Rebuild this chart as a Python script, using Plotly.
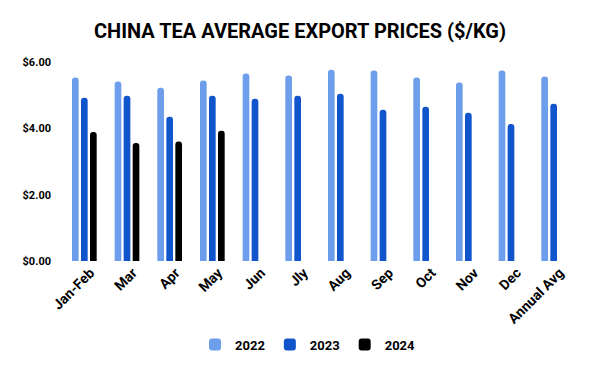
import plotly.graph_objects as go

categories = ["Jan-Feb", "Mar", "Apr", "May", "Jun", "Jly", "Aug", "Sep", "Oct", "Nov", "Dec", "Annual Avg"]
v2022 = [5.53, 5.41, 5.22, 5.44, 5.65, 5.59, 5.77, 5.74, 5.53, 5.38, 5.74, 5.56]
v2023 = [4.92, 4.98, 4.35, 4.98, 4.89, 4.98, 5.04, 4.56, 4.65, 4.47, 4.13, 4.74]
v2024 = [3.89, 3.56, 3.60, 3.93, None, None, None, None, None, None, None, None]
y_ticks = [0, 2, 4, 6]
y_tick_labels = ["$0.00", "$2.00", "$4.00", "$6.00"]

fig = go.Figure()
for name, vals, color in [("2022", v2022, "#6d9eeb"), ("2023", v2023, "#1155cc"), ("2024", v2024, "#000000")]:
    fig.add_trace(go.Bar(x=categories, y=vals, name=name, marker_color=color, marker_line_width=0))

fig.update_layout(
    width=600, height=371,
    margin=dict(l=55, r=33, t=54, b=118, autoexpand=False),
    paper_bgcolor="white", plot_bgcolor="white",
    barmode="group", bargap=0.366, bargroupgap=0.26,
    barcornerradius=3,
    font=dict(family="Roboto", color="#000000"),
    title=dict(text="<b>CHINA TEA AVERAGE EXPORT PRICES ($/KG)</b>", x=0.4867, xref="container", xanchor="center",
               y=1 - 23 / 371, yref="container", yanchor="middle",
               font=dict(size=20, family="Roboto", color="#000000")),
    showlegend=True,
    legend=dict(orientation="h", x=0.5, xref="container", xanchor="center", y=-0.42, yanchor="middle",
                font=dict(size=13, family="Roboto", color="#000000", weight="bold")),
)
fig.update_xaxes(tickangle=-45, tickfont=dict(size=14, family="Roboto", color="#000000", weight="bold"),
                 showgrid=False, showline=False, ticks="", automargin=False, ticklabelshift=6)
fig.update_yaxes(range=[0, 6], tickvals=y_ticks, ticktext=y_tick_labels, showgrid=False, zeroline=False,
                 tickfont=dict(size=11, family="Roboto", color="#000000", weight="bold"), ticklabelstandoff=11,
                 automargin=False)

fig.write_html("out.html")
